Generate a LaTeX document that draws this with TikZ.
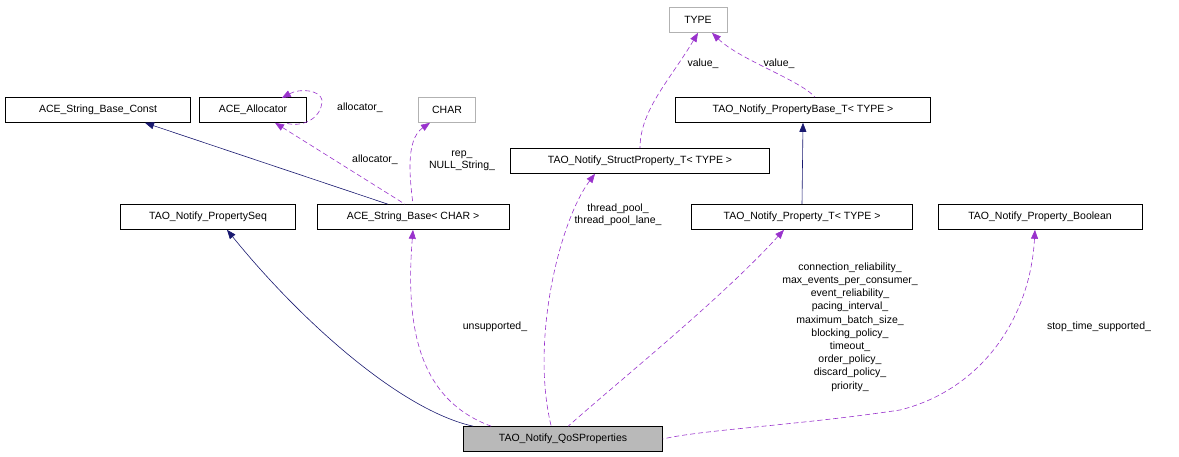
\documentclass[tikz,border=0pt]{standalone}
\usepackage{fontspec}
\setmainfont{Liberation Sans}
\usetikzlibrary{arrows.meta}
\begin{document}
\begin{tikzpicture}[x=1pt,y=-1pt,
  box/.style={draw=black,line width=0.6pt,minimum height=25pt,inner sep=0pt,font=\fontsize{10.5}{12}\selectfont},
  gbox/.style={box,draw=gray!60},
  inh/.style={draw={rgb,255:red,25;green,25;blue,112},line width=0.6pt,{Triangle[length=9pt,width=7pt]}-},
  use/.style={draw={rgb,255:red,153;green,50;blue,204},dash pattern=on 5pt off 3pt,line width=0.6pt,{Triangle[length=9pt,width=7pt]}-},
  lbl/.style={font=\fontsize{10.5}{12}\selectfont,align=center,inner sep=1pt}]
\useasboundingbox (0,0) rectangle (1179,456);
\node[box,fill=gray!55,minimum width=199pt] (qos) at (563,439) {TAO\_Notify\_QoSProperties};
\node[box,minimum width=175pt] (seq) at (208,217) {TAO\_Notify\_PropertySeq};
\node[box,minimum width=192pt] (sb) at (413,217) {ACE\_String\_Base< CHAR >};
\node[box,minimum width=185pt] (sbc) at (98,110) {ACE\_String\_Base\_Const};
\node[box,minimum width=107pt] (alloc) at (253,110) {ACE\_Allocator};
\node[gbox,minimum width=57pt] (char) at (447,110) {CHAR};
\node[gbox,minimum width=58pt] (type) at (698,20) {TYPE};
\node[box,minimum width=259pt] (sp) at (640,161) {TAO\_Notify\_StructProperty\_T< TYPE >};
\node[box,minimum width=255pt] (pb) at (803,110) {TAO\_Notify\_PropertyBase\_T< TYPE >};
\node[box,minimum width=221pt] (pt) at (802,217) {TAO\_Notify\_Property\_T< TYPE >};
\node[box,minimum width=204pt] (pbool) at (1040,217) {TAO\_Notify\_Property\_Boolean};

\draw[inh] (seq.south)++(19,0) .. controls (300,320) and (400,410) .. ([xshift=10pt]qos.north west);
\draw[use] (sb.south) .. controls (405,330) and (420,400) .. ([xshift=28pt]qos.north west);
\draw[use] (sp.south)++(-45,0) .. controls (560,220) and (530,340) .. ([xshift=88pt]qos.north west);
\draw[use] (pt.south)++(-18,0) .. controls (720,300) and (620,380) .. ([xshift=105pt]qos.north west);
\draw[use] (pbool.south)++(-5,0) .. controls (1030,320) and (980,390) .. (900,410) .. controls (800,425) and (700,430) .. (qos.east);
\draw[inh] (sbc.south)++(47,0) -- ([xshift=-25pt]sb.north);
\draw[use] (alloc.south)++(22,0) -- ([xshift=-8pt]sb.north);
\draw[use] (alloc.east)++(-25,-12) .. controls (300,88) and (320,90) .. (322,100) .. controls (322,120) and (300,128) .. ([xshift=-22pt,yshift=0pt]alloc.south east);
\draw[use] (char.south)++(-17,0) .. controls (405,140) and (410,180) .. (sb.north);
\draw[use] (type.south) .. controls (670,80) and (640,110) .. (sp.north);
\draw[use] (type.south)++(14,0) .. controls (740,60) and (800,80) .. ([xshift=12pt]pb.north);
\draw[inh] (pb.south) -- (pt.north);

\node[lbl] at (360,108) {allocator\_};
\node[lbl] at (375,160) {allocator\_};
\node[lbl] at (462,161) {rep\_\\NULL\_String\_};
\node[lbl] at (703,64) {value\_};
\node[lbl] at (779,64) {value\_};
\node[lbl] at (618,215) {thread\_pool\_\\thread\_pool\_lane\_};
\node[lbl] at (495,327) {unsupported\_};
\node[lbl] at (1099,327) {stop\_time\_supported\_};
\node[lbl,font=\fontsize{10.5}{13.2}\selectfont] at (850,327) {connection\_reliability\_\\max\_events\_per\_consumer\_\\event\_reliability\_\\pacing\_interval\_\\maximum\_batch\_size\_\\blocking\_policy\_\\timeout\_\\order\_policy\_\\discard\_policy\_\\priority\_};
\end{tikzpicture}
\end{document}
